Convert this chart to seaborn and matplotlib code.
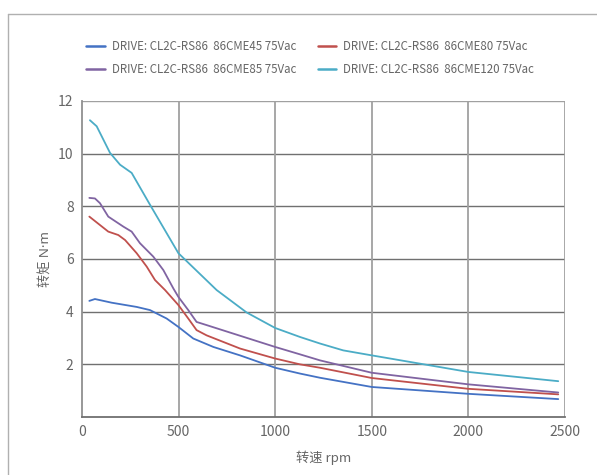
import numpy as np
import pandas as pd
import seaborn as sns
import matplotlib.pyplot as plt
from matplotlib.lines import Line2D

### Data (speed rpm, torque N*m).
speed_45 = [38, 67, 154, 283, 352, 438, 499, 576, 680, 818, 1000, 1128, 1232, 1500, 2000, 2465]
torque_45 = [4.41, 4.48, 4.34, 4.18, 4.06, 3.74, 3.42, 2.98, 2.66, 2.34, 1.87, 1.65, 1.49, 1.14, 0.88, 0.68]

speed_80 = [38, 136, 188, 223, 283, 335, 378, 430, 499, 550, 593, 645, 818, 1000, 1128, 1232, 1500, 2000, 2465]
torque_80 = [7.61, 7.04, 6.91, 6.72, 6.22, 5.71, 5.2, 4.82, 4.25, 3.74, 3.30, 3.10, 2.6, 2.22, 2.0, 1.87, 1.48, 1.07, 0.86]

speed_85 = [38, 67, 93, 136, 214, 257, 300, 369, 421, 473, 499, 550, 593, 645, 1000, 1128, 1232, 1500, 2000, 2465]
torque_85 = [8.32, 8.30, 8.12, 7.61, 7.23, 7.04, 6.6, 6.09, 5.58, 4.88, 4.56, 4.06, 3.61, 3.49, 2.66, 2.38, 2.15, 1.68, 1.24, 0.93]

speed_120 = [41, 76, 145, 197, 257, 352, 499, 697, 852, 1000, 1128, 1232, 1352, 1500, 2000, 2465]
torque_120 = [11.27, 11.04, 10.03, 9.58, 9.27, 8.06, 6.22, 4.82, 3.97, 3.38, 3.04, 2.79, 2.53, 2.34, 1.71, 1.36]

labels = ['DRIVE: CL2C-RS86  86CME45 75Vac',
          'DRIVE: CL2C-RS86  86CME80 75Vac',
          'DRIVE: CL2C-RS86  86CME85 75Vac',
          'DRIVE: CL2C-RS86  86CME120 75Vac']
colors = ['#4472c4', '#c0504d', '#8064a2', '#4bacc6']

frames = []
for lab, s, t in zip(labels, [speed_45, speed_80, speed_85, speed_120],
                     [torque_45, torque_80, torque_85, torque_120]):
    frames.append(pd.DataFrame({'speed': s, 'torque': t, 'drive': lab}))
data = pd.concat(frames, ignore_index=True)

sns.set_style('white')
plt.rcParams['font.family'] = ['Noto Sans CJK SC', 'DejaVu Sans']

fig = plt.figure(figsize=(5.97, 4.75), dpi=100)
ax = fig.add_axes([82/597, 1-417/475, 483/597, 316/475])

sns.lineplot(data=data, x='speed', y='torque', hue='drive', palette=colors,
             hue_order=labels, linewidth=1.3, legend=False, ax=ax, sort=True)

ax.set_xlim(0, 2500)
ax.set_ylim(0, 12)
ax.set_xticks([0, 500, 1000, 1500, 2000, 2500])
ax.set_yticks([2, 4, 6, 8, 10, 12])
ax.tick_params(colors='#666666', labelsize=10, length=0, pad=6)

for v in [2, 4, 6, 8, 10]:
    ax.axhline(v, color='#707070', lw=1.0, zorder=0)
ax.axhline(12, color='#a0a0a0', lw=1.0, zorder=0)
for v in [500, 1000, 1500, 2000]:
    ax.axvline(v, color='#a0a0a0', lw=1.3, zorder=0)

for side in ['top', 'right']:
    ax.spines[side].set_visible(False)
ax.spines['left'].set_color('#909090')
ax.spines['left'].set_linewidth(1.3)
ax.spines['bottom'].set_color('#707070')
ax.spines['bottom'].set_linewidth(1.3)
ax.axvline(2500, color='#a0a0a0', lw=2.0, zorder=0)

ax.set_xlabel('转速 rpm', color='#666666', fontsize=9.5, labelpad=8)
ax.set_ylabel('转矩 N·m', color='#666666', fontsize=9.5, labelpad=4,
              family=['Noto Sans', 'Noto Sans CJK SC'])

### Legend in two rows above the plot (row order: 45, 80 / 85, 120).
order = [0, 2, 1, 3]
handles = [Line2D([], [], color=colors[i], lw=1.8) for i in order]
leg = fig.legend(handles, [labels[i] for i in order], loc='upper left',
                 bbox_to_anchor=(76/597, 1-30/475),
                 ncol=2, frameon=False, fontsize=8.3, handlelength=1.6,
                 handletextpad=0.6, columnspacing=1.9, labelspacing=0.85)
for t in leg.get_texts():
    t.set_color('#666666')

### Light frame around the picture.
fig.add_artist(Line2D([8/597, 1], [1-14/475, 1-14/475], color='#b0b0b0', lw=1.0))
fig.add_artist(Line2D([8/597, 8/597], [0, 1-14/475], color='#b0b0b0', lw=1.0))

fig.savefig('out.png', dpi=100)
